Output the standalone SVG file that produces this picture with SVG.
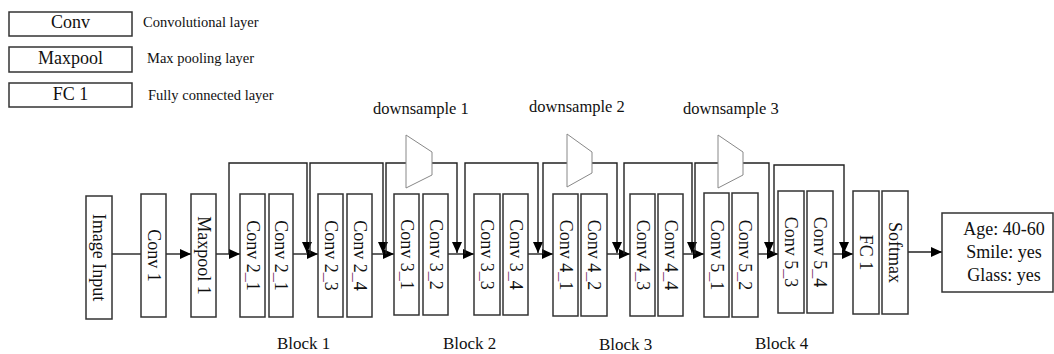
<svg xmlns="http://www.w3.org/2000/svg" width="1054" height="354" viewBox="0 0 1054 354">
<style>
.box{fill:#fff;stroke:#333;stroke-width:1.5}
.ds{fill:#fff;stroke:#888;stroke-width:1}
.t{font-family:"Liberation Serif","Times New Roman",serif;fill:#111}
.lbl{font-size:18px}
.rot{font-size:18px;text-anchor:middle;dominant-baseline:central}
.u{fill:#8a3f7a}
.wire{fill:none;stroke:#222;stroke-width:1.4}
</style>
<defs>
<marker id="ah" markerUnits="userSpaceOnUse" markerWidth="12" markerHeight="10" refX="11" refY="5" orient="auto">
<path d="M0,0 L11,5 L0,10 z" fill="#000"/>
</marker>
</defs>
<rect width="1054" height="354" fill="#fff"/>

<g id="legend">
<rect class="box" x="9" y="12" width="123" height="24"/>
<text class="t lbl" x="70.5" y="28" text-anchor="middle">Conv</text>
<rect class="box" x="9" y="47" width="123" height="25"/>
<text class="t lbl" x="70.5" y="64" text-anchor="middle">Maxpool</text>
<rect class="box" x="9" y="83" width="123" height="24"/>
<text class="t lbl" x="70.5" y="100" text-anchor="middle">FC 1</text>
<text class="t" font-size="14.5" x="143" y="27">Convolutional layer</text>
<text class="t" font-size="14.5" x="147" y="63">Max pooling layer</text>
<text class="t" font-size="14.5" x="148" y="100">Fully connected layer</text>
</g>

<g id="connectors">
<path class="wire" d="M112,254 H141"/>
<path class="wire" d="M166,254 H191" marker-end="url(#ah)"/>
<path class="wire" d="M216,254 H240" marker-end="url(#ah)"/>
<path class="wire" d="M293,254 H318" marker-end="url(#ah)"/>
<path class="wire" d="M372,254 H394" marker-end="url(#ah)"/>
<path class="wire" d="M448,254 H474" marker-end="url(#ah)"/>
<path class="wire" d="M528,254 H553" marker-end="url(#ah)"/>
<path class="wire" d="M607,254 H630" marker-end="url(#ah)"/>
<path class="wire" d="M683,254 H704" marker-end="url(#ah)"/>
<path class="wire" d="M758,254 H778" marker-end="url(#ah)"/>
<path class="wire" d="M833,254 H853" marker-end="url(#ah)"/>
<path class="wire" d="M908,252 H942" marker-end="url(#ah)"/>

<path class="wire" d="M229,254 V163 H307 V253" marker-end="url(#ah)"/>
<path class="wire" d="M310,254 V163 H383 V253" marker-end="url(#ah)"/>
<path class="wire" d="M386,254 V163 H406"/>
<path class="wire" d="M432,163 H457 V253" marker-end="url(#ah)"/>
<path class="wire" d="M465,254 V163 H538 V253" marker-end="url(#ah)"/>
<path class="wire" d="M543,254 V163 H567"/>
<path class="wire" d="M592,163 H617 V253" marker-end="url(#ah)"/>
<path class="wire" d="M624,254 V163 H692 V253" marker-end="url(#ah)"/>
<path class="wire" d="M695,254 V163 H718"/>
<path class="wire" d="M743,163 H769 V253" marker-end="url(#ah)"/>
<path class="wire" d="M774,254 V165 H844 V253" marker-end="url(#ah)"/>
</g>

<g id="downsample1">
<polygon class="ds" points="406,135 432,152 432,175 406,188"/>
<text class="t" font-size="16.5" x="373" y="114">downsample 1</text>
</g>
<g id="downsample2">
<polygon class="ds" points="567,134 592,152 592,173 567,187"/>
<text class="t" font-size="16.5" x="529" y="112">downsample 2</text>
</g>
<g id="downsample3">
<polygon class="ds" points="718,135 743,152 743,175 718,188"/>
<text class="t" font-size="16.5" x="683" y="114">downsample 3</text>
</g>

<g id="image-input">
<rect class="box" x="86" y="196" width="26" height="123"/>
<text class="t rot" transform="translate(99,257.5) rotate(90)">Image Input</text>
</g>
<g id="conv1">
<rect class="box" x="141" y="194" width="25" height="123"/>
<text class="t rot" transform="translate(153.5,255.5) rotate(90)">Conv 1</text>
</g>
<g id="maxpool1">
<rect class="box" x="191" y="194" width="25" height="123"/>
<text class="t rot" transform="translate(203.5,255.5) rotate(90)">Maxpool 1</text>
</g>

<g id="conv2_1a">
<rect class="box" x="240" y="194" width="25" height="123"/>
<text class="t rot" transform="translate(252.5,255.5) rotate(90)">Conv 2<tspan class="u">_</tspan>1</text>
</g>
<g id="conv2_1b">
<rect class="box" x="269" y="194" width="24" height="123"/>
<text class="t rot" transform="translate(281,255.5) rotate(90)">Conv 2<tspan class="u">_</tspan>1</text>
</g>
<g id="conv2_3">
<rect class="box" x="318" y="194" width="25" height="123"/>
<text class="t rot" transform="translate(330.5,255.5) rotate(90)">Conv 2<tspan class="u">_</tspan>3</text>
</g>
<g id="conv2_4">
<rect class="box" x="347" y="194" width="25" height="123"/>
<text class="t rot" transform="translate(359.5,255.5) rotate(90)">Conv 2<tspan class="u">_</tspan>4</text>
</g>

<g id="conv3_1">
<rect class="box" x="394" y="194" width="25" height="121"/>
<text class="t rot" transform="translate(406.5,254.5) rotate(90)">Conv 3<tspan class="u">_</tspan>1</text>
</g>
<g id="conv3_2">
<rect class="box" x="423" y="194" width="25" height="121"/>
<text class="t rot" transform="translate(435.5,254.5) rotate(90)">Conv 3<tspan class="u">_</tspan>2</text>
</g>
<g id="conv3_3">
<rect class="box" x="474" y="194" width="26" height="121"/>
<text class="t rot" transform="translate(487,254.5) rotate(90)">Conv 3<tspan class="u">_</tspan>3</text>
</g>
<g id="conv3_4">
<rect class="box" x="503" y="194" width="25" height="121"/>
<text class="t rot" transform="translate(515.5,254.5) rotate(90)">Conv 3<tspan class="u">_</tspan>4</text>
</g>

<g id="conv4_1">
<rect class="box" x="553" y="194" width="25" height="122"/>
<text class="t rot" transform="translate(565.5,255) rotate(90)">Conv 4<tspan class="u">_</tspan>1</text>
</g>
<g id="conv4_2">
<rect class="box" x="581" y="194" width="26" height="122"/>
<text class="t rot" transform="translate(594,255) rotate(90)">Conv 4<tspan class="u">_</tspan>2</text>
</g>
<g id="conv4_3">
<rect class="box" x="630" y="194" width="25" height="122"/>
<text class="t rot" transform="translate(642.5,255) rotate(90)">Conv 4<tspan class="u">_</tspan>3</text>
</g>
<g id="conv4_4">
<rect class="box" x="658" y="194" width="25" height="122"/>
<text class="t rot" transform="translate(670.5,255) rotate(90)">Conv 4<tspan class="u">_</tspan>4</text>
</g>

<g id="conv5_1">
<rect class="box" x="704" y="193" width="25" height="124"/>
<text class="t rot" transform="translate(716.5,255) rotate(90)">Conv 5<tspan class="u">_</tspan>1</text>
</g>
<g id="conv5_2">
<rect class="box" x="732" y="193" width="26" height="124"/>
<text class="t rot" transform="translate(745,255) rotate(90)">Conv 5<tspan class="u">_</tspan>2</text>
</g>
<g id="conv5_3">
<rect class="box" x="778" y="191" width="26" height="122"/>
<text class="t rot" transform="translate(791,252) rotate(90)">Conv 5<tspan class="u">_</tspan>3</text>
</g>
<g id="conv5_4">
<rect class="box" x="807" y="191" width="26" height="122"/>
<text class="t rot" transform="translate(820,252) rotate(90)">Conv 5<tspan class="u">_</tspan>4</text>
</g>

<g id="fc1">
<rect class="box" x="853" y="191" width="26" height="123"/>
<text class="t rot" transform="translate(866,252.5) rotate(90)">FC 1</text>
</g>
<g id="softmax">
<rect class="box" x="882" y="191" width="26" height="123"/>
<text class="t rot" transform="translate(895,252.5) rotate(90)">Softmax</text>
</g>

<g id="output">
<rect class="box" x="942" y="213" width="111" height="79"/>
<text class="t lbl" x="1004" y="235" text-anchor="middle">Age: 40-60</text>
<text class="t lbl" x="1004" y="258" text-anchor="middle">Smile: yes</text>
<text class="t lbl" x="1004" y="281" text-anchor="middle">Glass: yes</text>
</g>

<g id="block-labels">
<text class="t" font-size="17" x="277" y="349">Block 1</text>
<text class="t" font-size="17" x="443" y="349">Block 2</text>
<text class="t" font-size="17" x="599" y="350">Block 3</text>
<text class="t" font-size="17" x="755" y="349">Block 4</text>
</g>
</svg>
